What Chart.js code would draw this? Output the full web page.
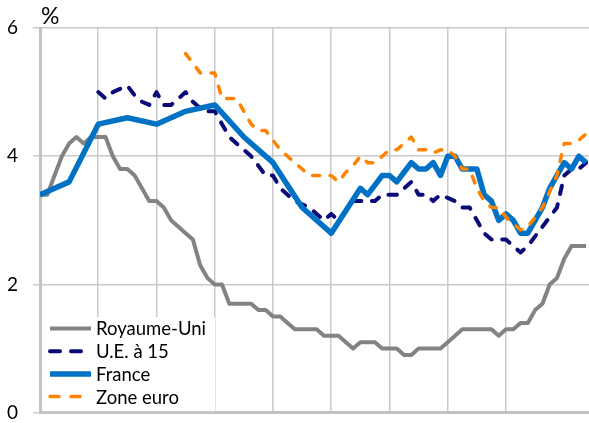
<!DOCTYPE html>
<html lang="fr">
<head>
  <meta charset="UTF-8" />
  <title>Taux - comparaison</title>
  <script src="https://cdn.jsdelivr.net/npm/chart.js"></script>
  <style>
    body {
      margin: 0;
      background: #fff;
    }
    #wrap {
      width: 589px;
      height: 423px;
    }
  </style>
</head>
<body>
  <div id="wrap"><canvas id="rateChart" width="589" height="423"></canvas></div>

  <script>
    // quarterly points, a vertical grid line every 8 quarters
    const quarters = Array.from({ length: 76 }, (_, i) => i);
    const yTicks = [0, 2, 4, 6];

    const royaumeUni = [
      3.4, 3.4, 3.7, 4.0, 4.2, 4.3, 4.2, 4.3, 4.3, 4.3,
      4.0, 3.8, 3.8, 3.7, 3.5, 3.3, 3.3, 3.2, 3.0, 2.9,
      2.8, 2.7, 2.3, 2.1, 2.0, 2.0, 1.7, 1.7, 1.7, 1.7,
      1.6, 1.6, 1.5, 1.5, 1.4, 1.3, 1.3, 1.3, 1.3, 1.2,
      1.2, 1.2, 1.1, 1.0, 1.1, 1.1, 1.1, 1.0, 1.0, 1.0,
      0.9, 0.9, 1.0, 1.0, 1.0, 1.0, 1.1, 1.2, 1.3, 1.3,
      1.3, 1.3, 1.3, 1.2, 1.3, 1.3, 1.4, 1.4, 1.6, 1.7,
      2.0, 2.1, 2.4, 2.6, 2.6, 2.6
    ];

    const ue15 = [
      null, null, null, null, null, null, null, null,
      5.0, 4.9, 5.0, 5.05, 5.1, 4.95, 4.85, 4.8,
      5.0, 4.8, 4.8, 4.9, 5.0, 4.85, 4.75, 4.7,
      4.7, 4.5, 4.3, 4.2, 4.1, 4.0, 3.85, 3.7,
      3.7, 3.5, 3.4, 3.3, 3.25, 3.2, 3.1, 3.0,
      3.1, 3.0, 3.15, 3.3, 3.3, 3.3, 3.3, 3.4,
      3.4, 3.4, 3.5, 3.6, 3.4, 3.4, 3.3, 3.4,
      3.35, 3.3, 3.2, 3.2, 3.0, 2.8, 2.7, 2.7,
      2.7, 2.6, 2.5, 2.6, 2.75, 2.9, 3.05, 3.2,
      3.7, 3.8, 3.8, 3.9
    ];

    // annual until the 44th quarter, then quarterly
    const france = [
      3.4, null, null, null, 3.6, null, null, null,
      4.5, null, null, null, 4.6, null, null, null,
      4.5, null, null, null, 4.7, null, null, null,
      4.8, null, null, null, 4.3, null, null, null,
      3.9, null, null, null, 3.2, null, null, null,
      2.8, null, null, null, 3.5, 3.4, 3.55, 3.7,
      3.7, 3.6, 3.75, 3.9, 3.8, 3.8, 3.9, 3.7,
      4.0, 4.0, 3.8, 3.8, 3.8, 3.4, 3.3, 3.0,
      3.1, 3.0, 2.8, 2.8, 3.0, 3.2, 3.5, 3.7,
      3.9, 3.8, 4.0, 3.9
    ];

    const zoneEuro = [
      null, null, null, null, null, null, null, null, null, null,
      null, null, null, null, null, null, null, null, null, null,
      5.6, 5.45, 5.3, 5.3, 5.3, 4.9, 4.9, 4.9, 4.7, 4.5,
      4.4, 4.4, 4.25, 4.1, 4.0, 3.9, 3.8, 3.7, 3.7, 3.7,
      3.7, 3.6, 3.75, 3.85, 4.0, 3.9, 3.9, 4.0, 4.1, 4.1,
      4.2, 4.3, 4.1, 4.1, 4.05, 4.1, 4.1, 4.0, 3.8, 3.8,
      3.5, 3.3, 3.2, 3.2, 3.05, 2.95, 2.85, 2.9, 3.05, 3.2,
      3.45, 3.7, 4.2, 4.2, 4.25, 4.35
    ];

    const FONT = "Lato, 'Open Sans', sans-serif";
    const GRID = '#cacaca';

    const toPoints = arr => quarters.map((q, i) => ({ x: q, y: arr[i] }));

    // legend box drawn over the lower left of the plot
    const boxLegend = {
      id: 'boxLegend',
      afterDraw(chart) {
        const ctx = chart.ctx;
        const area = chart.chartArea;
        ctx.save();
        ctx.fillStyle = '#fff';
        ctx.fillRect(area.left + 5, 317, 170, area.bottom - 318.5);

        ctx.font = '18.5px ' + FONT;
        ctx.textBaseline = 'middle';
        chart.data.datasets.forEach((ds, i) => {
          const y = 328.5 + i * 22.7;
          ctx.beginPath();
          ctx.strokeStyle = ds.borderColor;
          ctx.lineWidth = ds.borderWidth;
          ctx.lineCap = ds.borderDash.length ? 'round' : 'butt';
          ctx.setLineDash(ds.legendDash || []);
          ctx.moveTo(50, y);
          ctx.lineTo(91, y);
          ctx.stroke();
          ctx.setLineDash([]);
          ctx.fillStyle = '#000';
          ctx.fillText(ds.label, 96, y + 1);
        });

        // unit above the vertical axis
        ctx.font = '23px ' + FONT;
        ctx.textBaseline = 'alphabetic';
        ctx.fillText('%', area.left + 1, 24);
        ctx.restore();
      }
    };

    new Chart(document.getElementById('rateChart'), {
      type: 'line',
      data: {
        datasets: [
          {
            label: 'Royaume-Uni',
            data: toPoints(royaumeUni),
            borderColor: '#838383',
            borderWidth: 4,
            borderDash: [],
            order: 4
          },
          {
            label: 'U.E. à 15',
            data: toPoints(ue15),
            borderColor: '#0a0a78',
            borderWidth: 4,
            borderDash: [8.5, 10.5],
            legendDash: [10, 11],
            borderCapStyle: 'round',
            order: 3
          },
          {
            label: 'France',
            data: toPoints(france),
            borderColor: '#0072c6',
            borderWidth: 5.5,
            borderDash: [],
            spanGaps: true,
            order: 2
          },
          {
            label: 'Zone euro',
            data: toPoints(zoneEuro),
            borderColor: '#ff8200',
            borderWidth: 3.5,
            borderDash: [7, 10.5],
            legendDash: [9, 12],
            borderCapStyle: 'round',
            order: 1
          }
        ]
      },
      options: {
        responsive: false,
        animation: false,
        elements: {
          point: { radius: 0, hoverRadius: 0 },
          line: { tension: 0, borderJoinStyle: 'round' }
        },
        layout: { padding: { top: 28, bottom: 10.3, right: 0, left: 0 } },
        plugins: {
          legend: { display: false },
          tooltip: { enabled: false }
        },
        scales: {
          x: {
            type: 'linear',
            min: 0,
            max: 75.4,
            afterFit: s => { s.height = 0; s.paddingBottom = 0; s.paddingTop = 0; },
            ticks: { display: false, stepSize: 8 },
            grid: {
              drawTicks: false,
              lineWidth: 1.5,
              color: c => (c.tick && c.tick.value % 8 === 0 ? GRID : 'rgba(0,0,0,0)')
            },
            border: { display: true, color: '#c2c2c2', width: 3 }
          },
          y: {
            min: yTicks[0],
            max: yTicks[yTicks.length - 1],
            afterBuildTicks: s => { s.ticks = yTicks.map(v => ({ value: v })); },
            afterFit: s => { s.width = 40; s.paddingTop = 0; s.paddingBottom = 0; },
            ticks: {
              padding: 15,
              color: '#000',
              font: { size: 19, family: FONT }
            },
            grid: { color: GRID, lineWidth: 1.5, tickLength: 7 },
            border: { display: true, color: '#c2c2c2', width: 3 }
          }
        }
      },
      plugins: [boxLegend]
    });
  </script>
</body>
</html>
